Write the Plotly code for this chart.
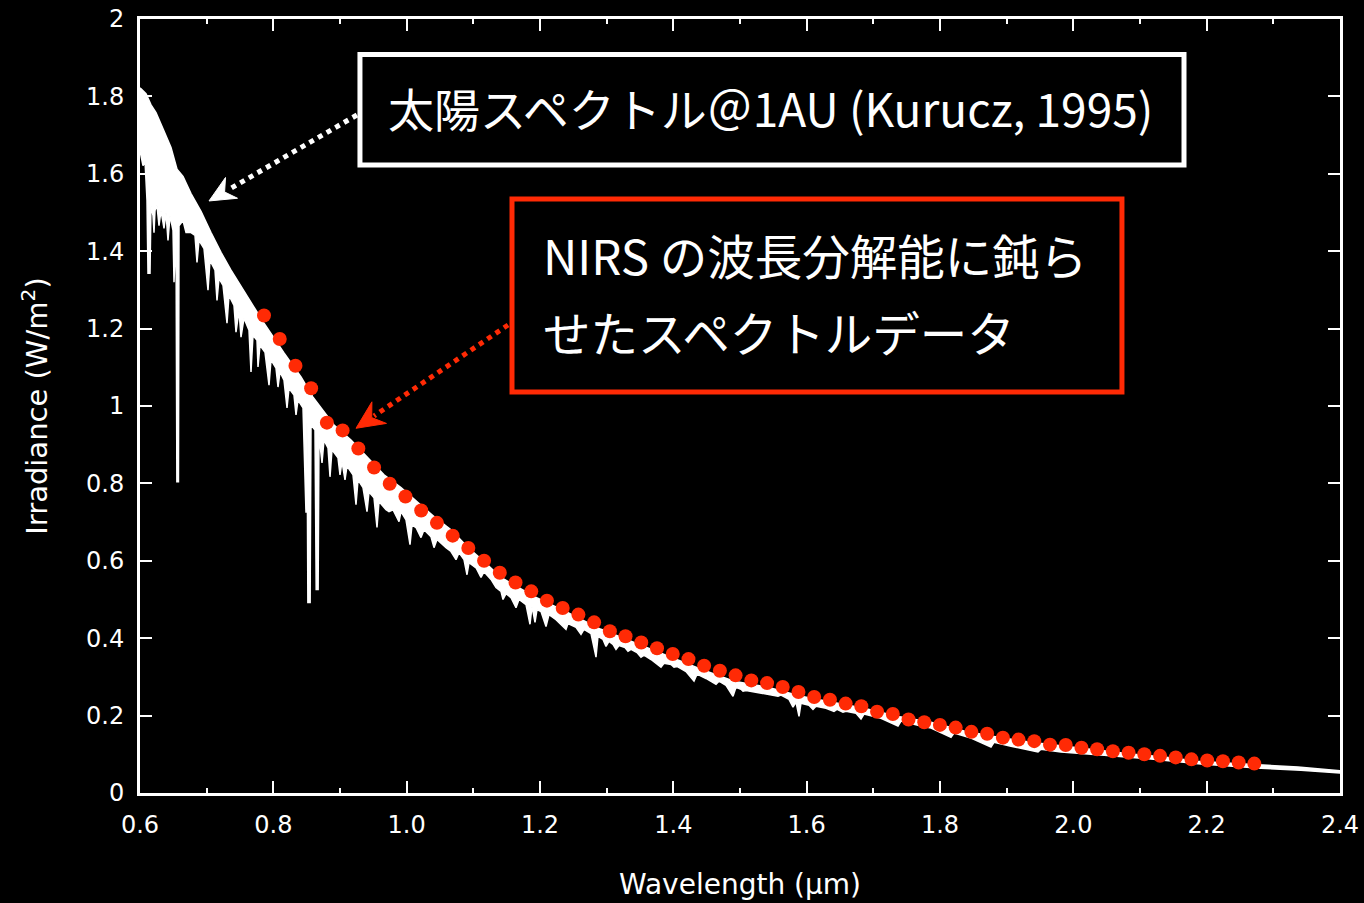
import plotly.graph_objects as go

# ---------------- data ----------------
# Kurucz (1995) solar spectrum at 1 AU: upper envelope of the plotted band
spec_top_wl = [0.600, 0.609, 0.6165, 0.624, 0.6345, 0.6465, 0.6555, 0.6645, 0.6765, 0.6915,
               0.7065, 0.7215, 0.7365, 0.7515, 0.7665, 0.786, 0.816, 0.8415, 0.8595, 0.891,
               0.9165, 0.942, 0.966, 0.9915, 1.017, 1.041, 1.0665, 1.092, 1.116, 1.1415,
               1.191, 1.242, 1.2915, 1.341, 1.392, 1.4415, 1.491, 1.542, 1.5915, 1.641,
               1.686, 1.737, 1.7865, 1.836, 1.887, 1.9365, 1.986, 2.037, 2.0865, 2.136,
               2.187, 2.2365, 2.286, 2.337, 2.400]
spec_top_irr = [1.822, 1.807, 1.778, 1.758, 1.716, 1.668, 1.612, 1.593, 1.549, 1.503,
                1.448, 1.397, 1.351, 1.309, 1.265, 1.214, 1.137, 1.075, 1.023, 0.951,
                0.912, 0.866, 0.822, 0.789, 0.750, 0.714, 0.680, 0.634, 0.598, 0.557,
                0.508, 0.466, 0.423, 0.389, 0.353, 0.320, 0.289, 0.273, 0.250, 0.2345,
                0.219, 0.198, 0.183, 0.160, 0.144, 0.131, 0.121, 0.111, 0.1005, 0.093,
                0.082, 0.077, 0.072, 0.067, 0.0575]

# lower edge of the band, including absorption lines
spec_low_wl = [0.6000, 0.6045, 0.6075, 0.6105, 0.6120, 0.6150, 0.6165, 0.6195, 0.6210, 0.6225,
               0.6255, 0.6285, 0.6315, 0.6360, 0.6390, 0.6420, 0.6450, 0.6495, 0.6510, 0.6540,
               0.6553, 0.6577, 0.6585, 0.6645, 0.6690, 0.6765, 0.6825, 0.6855, 0.6885, 0.6960,
               0.7020, 0.7050, 0.7125, 0.7155, 0.7185, 0.7245, 0.7305, 0.7335, 0.7410, 0.7440,
               0.7485, 0.7515, 0.7560, 0.7635, 0.7665, 0.7695, 0.7755, 0.7770, 0.7800, 0.7875,
               0.7935, 0.7965, 0.8040, 0.8070, 0.8100, 0.8160, 0.8205, 0.8235, 0.8310, 0.8340,
               0.8370, 0.8445, 0.8490, 0.8505, 0.8518, 0.8552, 0.8565, 0.8625, 0.8643, 0.8672,
               0.8685, 0.8730, 0.8760, 0.8820, 0.8850, 0.8880, 0.8970, 0.9000, 0.9030, 0.9075,
               0.9105, 0.9195, 0.9240, 0.9270, 0.9345, 0.9405, 0.9435, 0.9510, 0.9555, 0.9585,
               0.9690, 0.9735, 0.9795, 0.9885, 0.9915, 0.9990, 1.0050, 1.0080, 1.0140, 1.0215,
               1.0260, 1.0365, 1.0410, 1.0455, 1.0590, 1.0665, 1.0740, 1.0785, 1.0860, 1.0905,
               1.0935, 1.1040, 1.1115, 1.1160, 1.1265, 1.1340, 1.1415, 1.1445, 1.1490, 1.1565,
               1.1640, 1.1685, 1.1790, 1.1850, 1.1880, 1.1925, 1.1955, 1.2015, 1.2090, 1.2135,
               1.2240, 1.2390, 1.2420, 1.2540, 1.2615, 1.2660, 1.2765, 1.2840, 1.2870, 1.2945,
               1.2990, 1.3035, 1.3095, 1.3140, 1.3185, 1.3275, 1.3320, 1.3365, 1.3455, 1.3515,
               1.3560, 1.3665, 1.3815, 1.3860, 1.3965, 1.4010, 1.4055, 1.4190, 1.4310, 1.4355,
               1.4490, 1.4640, 1.4685, 1.4790, 1.4895, 1.4940, 1.5015, 1.5045, 1.5090, 1.5315,
               1.5570, 1.5615, 1.5735, 1.5795, 1.5840, 1.5885, 1.5915, 1.6035, 1.6095, 1.6140,
               1.6290, 1.6410, 1.6455, 1.6545, 1.6590, 1.6740, 1.6815, 1.6860, 1.7115, 1.7370,
               1.7415, 1.7715, 1.7865, 1.8165, 1.8210, 1.8465, 1.8765, 1.8810, 1.9065, 1.9470,
               1.9515, 1.9815, 2.0415, 2.1165, 2.1915, 2.2815, 2.3415, 2.4000]
spec_low_irr = [1.660, 1.621, 1.634, 1.531, 1.343, 1.343, 1.518, 1.492, 1.448, 1.505,
                1.518, 1.466, 1.505, 1.459, 1.500, 1.428, 1.492, 1.454, 1.320, 1.454,
                0.804, 0.804, 1.466, 1.479, 1.448, 1.448, 1.441, 1.371, 1.428, 1.407,
                1.299, 1.376, 1.351, 1.273, 1.330, 1.312, 1.214, 1.286, 1.260, 1.191,
                1.247, 1.178, 1.227, 1.196, 1.088, 1.183, 1.170, 1.101, 1.157, 1.139,
                1.054, 1.119, 1.098, 1.049, 1.088, 1.067, 0.995, 1.046, 1.028, 0.977,
                1.015, 0.995, 0.724, 0.964, 0.492, 0.492, 0.951, 0.938, 0.526, 0.526,
                0.925, 0.853, 0.912, 0.892, 0.817, 0.887, 0.866, 0.822, 0.856, 0.809,
                0.845, 0.822, 0.745, 0.809, 0.789, 0.727, 0.778, 0.763, 0.686, 0.753,
                0.732, 0.727, 0.732, 0.701, 0.727, 0.706, 0.642, 0.693, 0.686, 0.660,
                0.680, 0.662, 0.634, 0.655, 0.634, 0.624, 0.603, 0.621, 0.603, 0.564,
                0.595, 0.582, 0.557, 0.572, 0.552, 0.531, 0.521, 0.500, 0.515, 0.505,
                0.479, 0.500, 0.487, 0.436, 0.482, 0.441, 0.474, 0.469, 0.430, 0.461,
                0.448, 0.423, 0.438, 0.428, 0.410, 0.423, 0.412, 0.351, 0.405, 0.397,
                0.379, 0.392, 0.384, 0.371, 0.381, 0.376, 0.366, 0.371, 0.363, 0.351,
                0.356, 0.345, 0.325, 0.335, 0.332, 0.325, 0.327, 0.314, 0.289, 0.307,
                0.296, 0.281, 0.289, 0.278, 0.250, 0.273, 0.268, 0.263, 0.265, 0.258,
                0.250, 0.253, 0.242, 0.222, 0.235, 0.198, 0.232, 0.227, 0.216, 0.224,
                0.219, 0.211, 0.216, 0.209, 0.211, 0.206, 0.191, 0.204, 0.193, 0.173,
                0.186, 0.173, 0.168, 0.144, 0.155, 0.142, 0.119, 0.131, 0.121, 0.106,
                0.113, 0.106, 0.098, 0.088, 0.075, 0.064, 0.059, 0.052]

# spectrum degraded to NIRS resolution (64 channels)
nirs_wl = [0.7860, 0.8096, 0.8332, 0.8567, 0.8803, 0.9039, 0.9275, 0.9511, 0.9746, 0.9982,
           1.0218, 1.0454, 1.0690, 1.0925, 1.1161, 1.1397, 1.1633, 1.1869, 1.2104, 1.2340,
           1.2576, 1.2812, 1.3048, 1.3283, 1.3519, 1.3755, 1.3991, 1.4227, 1.4462, 1.4698,
           1.4934, 1.5170, 1.5406, 1.5641, 1.5877, 1.6113, 1.6349, 1.6585, 1.6820, 1.7056,
           1.7292, 1.7528, 1.7764, 1.7999, 1.8235, 1.8471, 1.8707, 1.8943, 1.9178, 1.9414,
           1.9650, 1.9886, 2.0122, 2.0357, 2.0593, 2.0829, 2.1065, 2.1301, 2.1536, 2.1772,
           2.2008, 2.2244, 2.2480, 2.2715]
nirs_irr = [1.234, 1.173, 1.104, 1.046, 0.957, 0.937, 0.890, 0.841, 0.799, 0.766,
            0.730, 0.698, 0.665, 0.633, 0.600, 0.569, 0.544, 0.521, 0.497, 0.478,
            0.461, 0.441, 0.418, 0.405, 0.389, 0.374, 0.359, 0.346, 0.329, 0.316,
            0.304, 0.291, 0.284, 0.274, 0.261, 0.248, 0.241, 0.231, 0.224, 0.210,
            0.204, 0.190, 0.183, 0.176, 0.169, 0.158, 0.153, 0.143, 0.138, 0.134,
            0.125, 0.124, 0.117, 0.113, 0.108, 0.104, 0.100, 0.096, 0.092, 0.087,
            0.084, 0.082, 0.079, 0.076]

x_tick_vals = [0.6, 0.8, 1.0, 1.2, 1.4, 1.6, 1.8, 2.0, 2.2, 2.4]
x_tick_text = ["0.6", "0.8", "1.0", "1.2", "1.4", "1.6", "1.8", "2.0", "2.2", "2.4"]
x_minor_vals = [0.7, 0.9, 1.1, 1.3, 1.5, 1.7, 1.9, 2.1, 2.3]
y_tick_vals = [0, 0.2, 0.4, 0.6, 0.8, 1.0, 1.2, 1.4, 1.6, 1.8, 2.0]
y_tick_text = ["0", "0.2", "0.4", "0.6", "0.8", "1", "1.2", "1.4", "1.6", "1.8", "2"]

label_kurucz = "太陽スペクトル＠1AU (Kurucz, 1995)"
label_nirs_1 = "NIRS の波長分解能に鈍ら"
label_nirs_2 = "せたスペクトルデータ"

RED = "#ff2a05"
WHITE = "#ffffff"
TICK_FONT = dict(family="DejaVu Sans", size=24, color=WHITE)
JP_FONT = dict(family="Noto Sans CJK JP", size=46, color=WHITE)
JP_FONT_RED_BOX = dict(family="Noto Sans CJK JP", size=47.5, color=WHITE)

# ---------------- figure ----------------
fig = go.Figure()

fig.add_trace(go.Scatter(
    x=spec_top_wl + spec_low_wl[::-1],
    y=spec_top_irr + spec_low_irr[::-1],
    mode="lines", fill="toself", fillcolor=WHITE,
    line=dict(color=WHITE, width=1.5), hoverinfo="skip"))

fig.add_trace(go.Scatter(
    x=nirs_wl, y=nirs_irr, mode="markers",
    marker=dict(size=14, color=RED, line=dict(width=0))))

axis_common = dict(
    showline=True, linewidth=3, linecolor=WHITE, mirror="ticks",
    ticks="inside", ticklen=12, tickwidth=2, tickcolor=WHITE,
    showgrid=False, zeroline=False, tickfont=TICK_FONT, automargin=False)

fig.update_xaxes(
    range=[0.6, 2.4], tickvals=x_tick_vals, ticktext=x_tick_text,
    minor=dict(tickvals=x_minor_vals, ticks="inside", ticklen=5, tickwidth=2,
               tickcolor=WHITE, showgrid=False),
    ticklabelstandoff=8,
    title=dict(text="Wavelength (μm)", font=dict(family="DejaVu Sans", size=28, color=WHITE),
               standoff=37),
    **axis_common)
fig.update_yaxes(
    range=[0, 2], tickvals=y_tick_vals, ticktext=y_tick_text,
    ticklabelstandoff=8,
    title=dict(text="Irradiance (W/m<sup>2</sup>)",
               font=dict(family="DejaVu Sans", size=29, color=WHITE), standoff=30),
    **axis_common)

# boxes (paper coordinates)
fig.add_shape(type="rect", xref="paper", yref="paper",
              x0=0.1833, x1=0.8700, y0=0.8114, y1=0.9541,
              line=dict(color=WHITE, width=5), fillcolor="black", layer="above")
fig.add_shape(type="rect", xref="paper", yref="paper",
              x0=0.3100, x1=0.8183, y0=0.5181, y1=0.7674,
              line=dict(color=RED, width=5), fillcolor="black", layer="above")

# dotted arrow shafts
fig.add_shape(type="line", xref="paper", yref="paper",
              x0=0.1808, y0=0.8760, x1=0.0733, y1=0.7791,
              line=dict(color=WHITE, width=5, dash="dot"))
fig.add_shape(type="line", xref="paper", yref="paper",
              x0=0.3067, y0=0.6047, x1=0.1950, y1=0.4871,
              line=dict(color=RED, width=5, dash="dot"))

# arrow heads (barbed)
fig.add_shape(type="path", xref="paper", yref="paper",
              path="M0.0575,0.7649 L0.08125,0.7684 L0.0705,0.7765 L0.07125,0.7952 Z",
              fillcolor=WHITE, line=dict(color=WHITE, width=1))
fig.add_shape(type="path", xref="paper", yref="paper",
              path="M0.1800,0.4712 L0.2054,0.4775 L0.1931,0.4850 L0.19325,0.5054 Z",
              fillcolor=RED, line=dict(color=RED, width=1))

# texts
fig.add_annotation(x=0.5258, y=0.8863, xref="paper", yref="paper", text=label_kurucz,
                   showarrow=False, xanchor="center", yanchor="middle", font=JP_FONT)
fig.add_annotation(x=0.3342, y=0.6951, xref="paper", yref="paper", text=label_nirs_1,
                   showarrow=False, xanchor="left", yanchor="middle", font=JP_FONT_RED_BOX)
fig.add_annotation(x=0.3342, y=0.5960, xref="paper", yref="paper", text=label_nirs_2,
                   showarrow=False, xanchor="left", yanchor="middle", font=JP_FONT_RED_BOX)

fig.update_layout(
    width=1364, height=903,
    margin=dict(l=140, r=24, t=19, b=110),
    paper_bgcolor="black", plot_bgcolor="black",
    showlegend=False)

fig.write_html("out.html")
